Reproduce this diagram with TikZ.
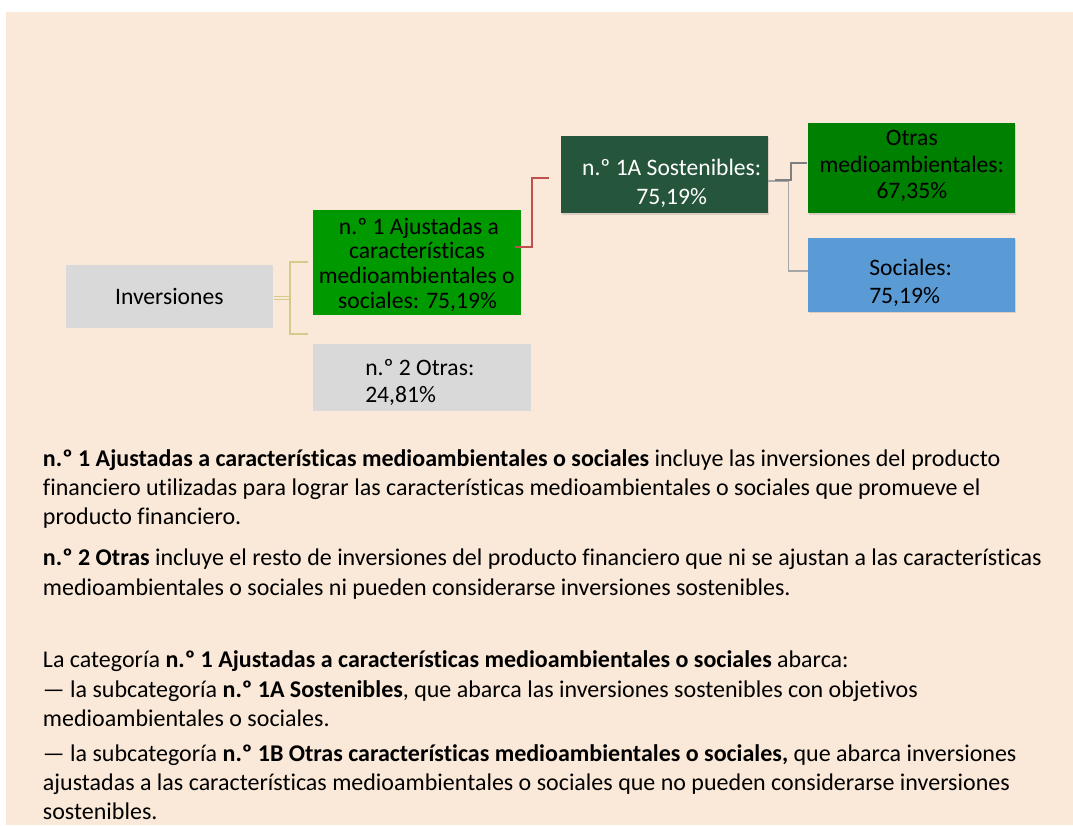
\documentclass[tikz,border=0pt]{standalone}
\usepackage{fontspec}
\setmainfont{Carlito}[Ligatures=NoCommon]
\usetikzlibrary{shadows}
\definecolor{bgc}{HTML}{FAE8D8}
\definecolor{boxgray}{HTML}{D9D9D9}
\definecolor{greenA}{HTML}{009900}
\definecolor{greenB}{HTML}{008000}
\definecolor{darkgreen}{HTML}{25553A}
\definecolor{blueS}{HTML}{5B9BD5}
\definecolor{redL}{HTML}{C0504D}
\definecolor{oliveL}{HTML}{D6C98A}
\definecolor{grayD}{HTML}{7F7F7F}
\definecolor{grayL}{HTML}{A6A6A6}
\newcommand\bodyfnt{\fontsize{18pt}{22pt}\selectfont}
\newcommand\dgfnt{\fontsize{17.7pt}{20pt}\selectfont}
\begin{document}
\begin{tikzpicture}[x=0.75pt,y=-0.75pt,
  box/.style={rectangle, inner sep=0pt, draw=none},
  shd/.style={drop shadow={shadow xshift=1pt, shadow yshift=-1pt, opacity=0.25}},
  dtxt/.style={font=\dgfnt, inner sep=0pt, anchor=base},
  dtxtl/.style={font=\dgfnt, inner sep=0pt, anchor=base west},
  btxt/.style={font=\bodyfnt, inner sep=0pt, anchor=base west, text=black},
  olive/.style={draw=oliveL, line width=1.3pt},
  redcon/.style={draw=redL, line width=1.3pt},
  gdark/.style={draw=grayD, line width=1.6pt},
  glight/.style={draw=grayL, line width=1.2pt}]
\useasboundingbox (0,0) rectangle (1073,825);
\fill[bgc] (6,12) rectangle (1073,825);

% boxes
\node[box, fill=boxgray, minimum width=155.48pt, minimum height=47.48pt] (inv) at (169.65,296.65) {};
\node[box, fill=greenA, minimum width=155.55pt, minimum height=78.75pt] (g1) at (417,262.5) {};
\node[box, fill=boxgray, minimum width=163.5pt, minimum height=49.8pt] (o2) at (422.3,377.5) {};
\node[box, shd, fill=darkgreen, minimum width=155.03pt, minimum height=58.2pt] (s1a) at (664.35,174.5) {};
\node[box, shd, fill=greenB, minimum width=155.48pt, minimum height=67.5pt] (om) at (911.35,168.3) {};
\node[box, shd, fill=blueS, minimum width=155.48pt, minimum height=55.5pt] (so) at (911.35,274.7) {};

% box texts
\node[dtxt] (tinv) at (169.3,304.3) {Inversiones};
\node[dtxt] (tg1a) at (419,234) {n.º 1 Ajustadas a};
\node[dtxt] (tg1b) at (417,258.5) {características};
\node[dtxt] (tg1c) at (416.7,283.3) {medioambientales o};
\node[dtxt] (tg1d) at (417.5,308.5) {sociales: 75,19\%};
\node[dtxtl] (to2a) at (365,375) {n.º 2 Otras:};
\node[dtxtl] (to2b) at (365,402.3) {24,81\%};
\node[dtxt, text=white] (ts1a) at (671.7,175) {n.º 1A Sostenibles:};
\node[dtxt, text=white] (ts1b) at (671.7,204.3) {75,19\%};
\node[dtxt] (toma) at (911.8,145) {Otras};
\node[dtxt] (tomb) at (911.8,172.7) {medioambientales:};
\node[dtxt] (tomc) at (911.8,198.3) {67,35\%};
\node[dtxtl] (tsoa) at (869,275.7) {Sociales:};
\node[dtxtl] (tsob) at (869,303.3) {75,19\%};

% connectors
\coordinate (bj) at (290,298);
\coordinate (bt) at (308.3,261.7);
\coordinate (bb) at (308.3,334.3);
\draw[draw=oliveL, line width=0.9pt] ([yshift=1.3pt]inv.east |- bj) -- ++(17,0);
\draw[draw=oliveL, line width=0.9pt] ([yshift=-1.3pt]inv.east |- bj) -- ++(17,0);
\draw[olive] (bt) -| (bj) |- (bb);

\coordinate (r0) at (515,246.7);
\coordinate (r1) at (549,178.3);
\draw[redcon] (r0) -| (532.3,178.3) -- (r1);

\coordinate (l0) at (767.7,181);
\coordinate (l1) at (807.7,270.7);
\draw[glight] (l0) -- (788.3,181) |- (l1);
\coordinate (d0) at (775,179.6);
\coordinate (d1) at (806.7,163.3);
\draw[gdark] (d0) -- (790.7,179.6) |- (d1);

% body text
\node[btxt] (p1) at (42.7,466) {\textbf{n.º 1 Ajustadas a características medioambientales o sociales} incluye las inversiones del producto};
\node[btxt] (p2) at (42.7,495) {financiero utilizadas para lograr las características medioambientales o sociales que promueve el};
\node[btxt] (p3) at (42.7,524.5) {producto financiero.};
\node[btxt] (p4) at (42.7,565.5) {\textbf{n.º 2 Otras} incluye el resto de inversiones del producto financiero que ni se ajustan a las características};
\node[btxt] (p5) at (42.7,595) {medioambientales o sociales ni pueden considerarse inversiones sostenibles.};
\node[btxt] (p6) at (42.7,667.5) {La categoría \textbf{n.º 1 Ajustadas a características medioambientales o sociales} abarca:};
\node[btxt] (p7) at (42.7,697) {— la subcategoría \textbf{n.º 1A Sostenibles}, que abarca las inversiones sostenibles con objetivos};
\node[btxt] (p8) at (42.7,726.5) {medioambientales o sociales.};
\node[btxt] (p9) at (42.7,761) {— la subcategoría \textbf{n.º 1B Otras características medioambientales o sociales,} que abarca inversiones};
\node[btxt] (p10) at (42.7,790.5) {ajustadas a las características medioambientales o sociales que no pueden considerarse inversiones};
\node[btxt] (p11) at (42.7,819.5) {sostenibles.};
\end{tikzpicture}
\end{document}
